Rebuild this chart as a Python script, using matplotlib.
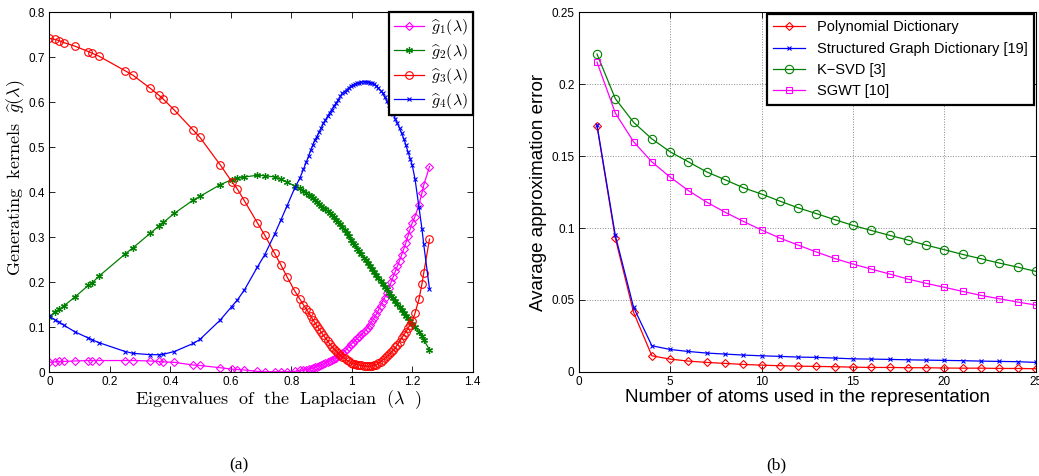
import numpy as np
import matplotlib.pyplot as plt
from matplotlib.ticker import FixedLocator, FixedFormatter

plt.rcParams['mathtext.fontset'] = 'cm'
plt.rcParams['font.family'] = 'Liberation Sans'

# ---- (a) kernels evaluated on the Laplacian eigenvalues ----
lam = [0, 0.019, 0.033, 0.047, 0.084, 0.129, 0.142, 0.163, 0.251, 0.277,
       0.334, 0.362, 0.377, 0.413, 0.476, 0.498, 0.565, 0.603, 0.622, 0.645,
       0.688, 0.712, 0.745, 0.766, 0.786, 0.811, 0.828, 0.840,
       0.850, 0.857, 0.864, 0.871, 0.878, 0.885, 0.892, 0.899, 0.906, 0.913,
       0.920, 0.927, 0.934, 0.941, 0.948, 0.955, 0.962, 0.969, 0.976, 0.983,
       0.990, 0.997, 1.004, 1.011, 1.018, 1.025, 1.032, 1.039, 1.046, 1.053,
       1.060, 1.067, 1.074, 1.081, 1.088, 1.095, 1.102, 1.109, 1.116, 1.123,
       1.130, 1.137, 1.144, 1.151, 1.158, 1.165, 1.172, 1.179, 1.186, 1.193,
       1.200, 1.209, 1.222, 1.232, 1.238, 1.257]

g1 = [0.022, 0.023, 0.024, 0.024, 0.025, 0.026, 0.026, 0.026, 0.026, 0.026,
      0.025, 0.024, 0.023, 0.022, 0.016, 0.015, 0.010, 0.007, 0.006, 0.005,
      0.002, 0.001, 0.001, 0.001, 0.001, 0.002, 0.004, 0.005,
      0.006, 0.007, 0.008, 0.009, 0.011, 0.012, 0.014, 0.016, 0.018, 0.020,
      0.022, 0.025, 0.028, 0.030, 0.032, 0.035, 0.038, 0.042, 0.047, 0.051,
      0.057, 0.062, 0.066, 0.071, 0.075, 0.079, 0.084, 0.089, 0.094, 0.099,
      0.106, 0.114, 0.121, 0.129, 0.138, 0.148, 0.157, 0.166, 0.176, 0.188,
      0.200, 0.212, 0.224, 0.236, 0.248, 0.261, 0.274, 0.288, 0.303, 0.318,
      0.332, 0.346, 0.372, 0.398, 0.416, 0.457]

g2 = [0.122, 0.135, 0.140, 0.147, 0.167, 0.193, 0.199, 0.213, 0.263, 0.277,
      0.309, 0.325, 0.333, 0.353, 0.383, 0.391, 0.417, 0.428, 0.431, 0.434,
      0.438, 0.437, 0.434, 0.429, 0.423, 0.414, 0.409, 0.404,
      0.399, 0.395, 0.391, 0.387, 0.383, 0.378, 0.374, 0.370, 0.366, 0.362,
      0.358, 0.354, 0.349, 0.344, 0.339, 0.334, 0.329, 0.323, 0.316, 0.309,
      0.302, 0.295, 0.288, 0.282, 0.275, 0.269, 0.262, 0.255, 0.249, 0.242,
      0.236, 0.229, 0.223, 0.216, 0.209, 0.203, 0.197, 0.190, 0.184, 0.177,
      0.170, 0.164, 0.158, 0.151, 0.145, 0.139, 0.132, 0.126, 0.120, 0.114,
      0.108, 0.101, 0.090, 0.081, 0.072, 0.050]

g3 = [0.742, 0.740, 0.737, 0.733, 0.725, 0.713, 0.709, 0.703, 0.670, 0.660,
      0.631, 0.616, 0.607, 0.583, 0.538, 0.522, 0.461, 0.424, 0.407, 0.381,
      0.332, 0.305, 0.264, 0.238, 0.212, 0.181, 0.163, 0.150,
      0.140, 0.133, 0.125, 0.117, 0.110, 0.103, 0.096, 0.089, 0.082, 0.076,
      0.070, 0.063, 0.057, 0.052, 0.048, 0.043, 0.038, 0.034, 0.031, 0.027,
      0.024, 0.021, 0.019, 0.018, 0.017, 0.016, 0.015, 0.014, 0.014, 0.013,
      0.013, 0.014, 0.015, 0.017, 0.020, 0.023, 0.027, 0.031, 0.035, 0.040,
      0.044, 0.049, 0.055, 0.061, 0.068, 0.076, 0.083, 0.090, 0.098, 0.106,
      0.114, 0.131, 0.162, 0.196, 0.221, 0.296]

g4 = [0.125, 0.116, 0.111, 0.105, 0.090, 0.076, 0.072, 0.066, 0.046, 0.042,
      0.039, 0.039, 0.040, 0.046, 0.064, 0.073, 0.116, 0.146, 0.161, 0.183,
      0.234, 0.261, 0.307, 0.339, 0.370, 0.409, 0.431, 0.451,
      0.468, 0.480, 0.493, 0.505, 0.517, 0.524, 0.534, 0.543, 0.553, 0.561,
      0.569, 0.577, 0.584, 0.592, 0.598, 0.605, 0.613, 0.620, 0.624, 0.628,
      0.632, 0.636, 0.638, 0.640, 0.642, 0.644, 0.645, 0.646, 0.646, 0.645,
      0.644, 0.643, 0.641, 0.637, 0.632, 0.626, 0.621, 0.612, 0.603, 0.593,
      0.583, 0.574, 0.563, 0.553, 0.542, 0.531, 0.519, 0.505, 0.490, 0.475,
      0.460, 0.430, 0.368, 0.319, 0.284, 0.185]

# ---- (b) approximation error vs number of atoms ----
atoms = list(range(1, 26))
err_poly = [0.171, 0.093, 0.0413, 0.0111, 0.0088, 0.0074, 0.0065, 0.0058, 0.0051, 0.0046,
            0.0042, 0.0039, 0.0037, 0.0035, 0.0032, 0.0030, 0.0030, 0.0028, 0.0028, 0.0026,
            0.0025, 0.0025, 0.0023, 0.0023, 0.0021]
err_sgd = [0.1716, 0.0949, 0.0448, 0.0181, 0.0155, 0.0141, 0.0130, 0.0123, 0.0116, 0.0111,
           0.0107, 0.0102, 0.0100, 0.0095, 0.0090, 0.0088, 0.0086, 0.0083, 0.0081, 0.0079,
           0.0077, 0.0074, 0.0072, 0.0070, 0.0065]
err_ksvd = [0.221, 0.190, 0.1735, 0.162, 0.153, 0.146, 0.139, 0.1336, 0.128, 0.1236,
            0.1187, 0.114, 0.110, 0.1058, 0.1018, 0.0983, 0.0949, 0.0916, 0.0881, 0.0849,
            0.0816, 0.0786, 0.0756, 0.0728, 0.0698]
err_sgwt = [0.2154, 0.180, 0.160, 0.146, 0.1354, 0.126, 0.118, 0.111, 0.1046, 0.0986,
            0.093, 0.0881, 0.0833, 0.0788, 0.0749, 0.0714, 0.0680, 0.0645, 0.0615, 0.0587,
            0.0559, 0.0531, 0.0508, 0.0485, 0.0464]

xt_a = [0, 0.2, 0.4, 0.6, 0.8, 1.0, 1.2, 1.4]
xl_a = ['0', '0.2', '0.4', '0.6', '0.8', '1', '1.2', '1.4']
yt_a = [0, 0.1, 0.2, 0.3, 0.4, 0.5, 0.6, 0.7, 0.8]
yl_a = ['0', '0.1', '0.2', '0.3', '0.4', '0.5', '0.6', '0.7', '0.8']
xt_b = [0, 5, 10, 15, 20, 25]
xl_b = ['0', '5', '10', '15', '20', '25']
yt_b = [0, 0.05, 0.1, 0.15, 0.2, 0.25]
yl_b = ['0', '0.05', '0.1', '0.15', '0.2', '0.25']

GREEN = '#008000'

fig = plt.figure(figsize=(10.39, 4.76), dpi=100)
ax1 = fig.add_axes([0.0475, 0.218, 0.4075, 0.756])
ax2 = fig.add_axes([0.557, 0.219, 0.440, 0.755])

for ax in (ax1, ax2):
    ax.tick_params(direction='in', top=True, right=True, length=4, width=0.6,
                   labelsize=8.5, pad=3)
    for s in ax.spines.values():
        s.set_linewidth(0.8)

lw = 0.9
ax1.plot(lam, g1, '-', color='magenta', marker='D', ms=4.2, mfc='none', mew=0.8,
         lw=lw, label=r'$\widehat{g}_1(\lambda)$')
ax1.plot(lam, g2, '-', color=GREEN, marker=(6, 2, 0), ms=5, mew=0.9,
         lw=lw, label=r'$\widehat{g}_2(\lambda)$')
ax1.plot(lam, g3, '-', color='red', marker='o', ms=5.5, mfc='none', mew=0.8,
         lw=lw, label=r'$\widehat{g}_3(\lambda)$')
ax1.plot(lam, g4, '-', color='blue', marker='x', ms=3.5, mew=0.8,
         lw=lw, label=r'$\widehat{g}_4(\lambda)$')
ax1.set_xlim(0, 1.4)
ax1.set_ylim(0, 0.8)
ax1.xaxis.set_major_locator(FixedLocator(xt_a))
ax1.xaxis.set_major_formatter(FixedFormatter(xl_a))
ax1.yaxis.set_major_locator(FixedLocator(yt_a))
ax1.yaxis.set_major_formatter(FixedFormatter(yl_a))
ax1.set_xlabel(r'$\mathrm{Eigenvalues\ \ of\ \ the\ \ Laplacian}\ \ (\lambda\ \ )$',
               fontsize=13)
ax1.set_ylabel(r'$\mathrm{Generating\ \ kernels}\ \ \widehat{g}(\lambda)$',
               fontsize=13)
ax1.xaxis.set_label_coords(0.54, -0.045, transform=ax1.transAxes)
ax1.yaxis.set_label_coords(-0.052, 0.54, transform=ax1.transAxes)
leg1 = ax1.legend(loc='upper right', borderaxespad=0, fontsize=11.5,
                  handlelength=1.9, handletextpad=0.4, labelspacing=0.28,
                  borderpad=0.3, fancybox=False, framealpha=1, edgecolor='black')
leg1.get_frame().set_linewidth(1.6)

ax2.grid(True, linestyle=':', color='#888888', linewidth=0.7)
ax2.plot(atoms, err_poly, '-', color='red', marker='D', ms=4.2, mfc='none', mew=0.8,
         lw=lw, label='Polynomial Dictionary')
ax2.plot(atoms, err_sgd, '-', color='blue', marker='x', ms=3.5, mew=0.8,
         lw=lw, label='Structured Graph Dictionary [19]')
ax2.plot(atoms, err_ksvd, '-', color=GREEN, marker='o', ms=6, mfc='none', mew=0.8,
         lw=lw, label='K\u2212SVD [3]')
ax2.plot(atoms, err_sgwt, '-', color='magenta', marker='s', ms=4.5, mfc='none', mew=0.8,
         lw=lw, label='SGWT [10]')
ax2.set_xlim(0, 25)
ax2.set_ylim(0, 0.25)
ax2.xaxis.set_major_locator(FixedLocator(xt_b))
ax2.xaxis.set_major_formatter(FixedFormatter(xl_b))
ax2.yaxis.set_major_locator(FixedLocator(yt_b))
ax2.yaxis.set_major_formatter(FixedFormatter(yl_b))
ax2.set_xlabel('Number of atoms used in the representation', fontsize=13.5, labelpad=1)
ax2.set_ylabel('Avarage approximation error', fontsize=13.5, labelpad=3)
leg2 = ax2.legend(loc='upper right', borderaxespad=0.1, fontsize=10.5,
                  handlelength=2.2, labelspacing=0.5, borderpad=0.45,
                  fancybox=False, framealpha=1, edgecolor='black')
leg2.get_frame().set_linewidth(1.6)

fig.text(0.230, 0.014, '(a)', fontsize=12.5, family='Liberation Serif', ha='center')
fig.text(0.747, 0.014, '(b)', fontsize=12.5, family='Liberation Serif', ha='center')

fig.savefig('out.png', dpi=100)
